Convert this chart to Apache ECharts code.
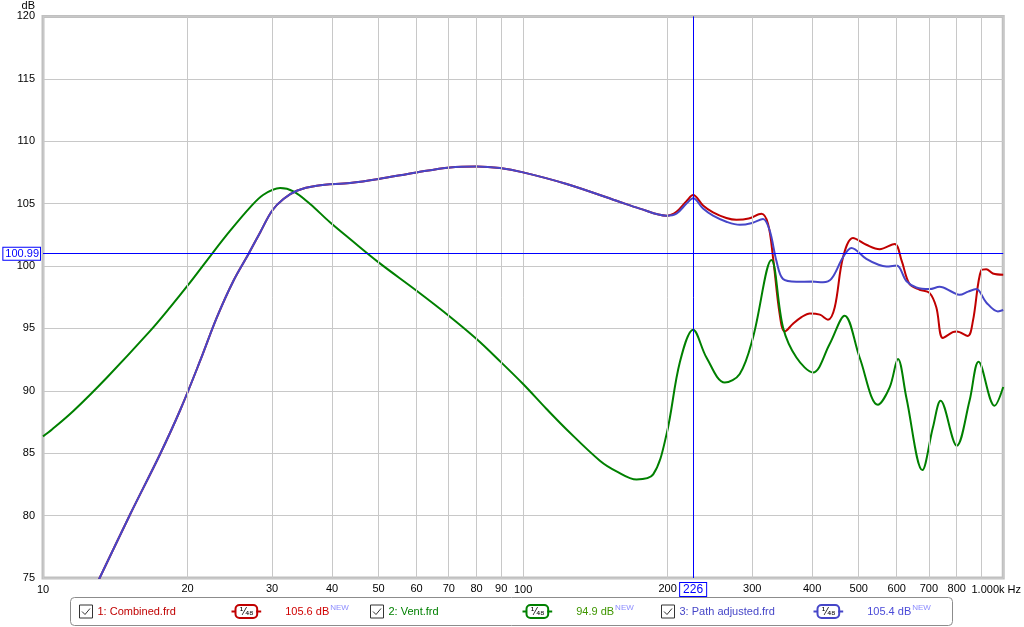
<!DOCTYPE html>
<html><head><meta charset="utf-8">
<script src="https://cdn.jsdelivr.net/npm/echarts@6/dist/echarts.min.js"></script>
<style>html,body{margin:0;padding:0;background:#fff}#c{width:1024px;height:627px}</style>
</head><body><div id="c"></div>
<script>
// ---- data ----
const sharedHz = [12, 13.12, 15.2, 17.54, 19.31, 21.25, 23.02, 24.93, 26.79, 28.33, 30, 31.68, 33.78, 37.17, 43.6, 50, 60, 70.4, 80, 89.5, 100, 123.2, 156.5, 175, 198.9];
const sharedDb = [71.9, 75, 80.13, 84.94, 88.46, 92.41, 95.88, 98.82, 100.96, 102.69, 104.43, 105.37, 106.03, 106.43, 106.65, 106.97, 107.5, 107.9, 107.98, 107.85, 107.5, 106.57, 105.23, 104.6, 104.03];

const combinedHz = [208.6, 218.9, 226, 237, 248.6, 265, 278.2, 295, 313.6, 323.6, 331.5, 342.2, 350.6, 364.9, 380, 395.4, 415, 431.5, 445.6, 463.8, 486.4, 518.7, 552.8, 594, 614, 638, 669.6, 702, 725.4, 748.6, 785, 800, 843.8, 864.7, 900, 921.8, 951.5, 1000];
const combinedDb = [104.35, 105.2, 105.69, 104.85, 104.3, 103.85, 103.7, 103.8, 104.18, 103.38, 100.7, 96.17, 94.75, 95.37, 95.9, 96.2, 96.1, 95.7, 96.68, 100.7, 102.25, 101.7, 101.35, 101.77, 100.45, 98.55, 98.1, 97.85, 96.7, 94.23, 94.7, 94.75, 94.4, 95.6, 99.66, 99.74, 99.4, 99.3];

const pathHz = [208.6, 218.9, 226, 237, 248.6, 265, 282.6, 300, 316, 326.3, 337, 347.8, 370.9, 400, 421.3, 438.5, 463.8, 482.7, 518.7, 550, 571, 600, 628.3, 659, 702.4, 736.9, 785, 810.9, 845, 878.6, 921.8, 974.6, 1000];
const pathDb = [104.2, 105.0, 105.42, 104.6, 104.03, 103.55, 103.3, 103.45, 103.77, 102.84, 100.4, 98.96, 98.74, 98.75, 98.7, 98.96, 100.7, 101.45, 100.57, 100.1, 99.96, 100.04, 98.8, 98.28, 98.15, 98.33, 97.9, 97.69, 97.95, 98.15, 97.08, 96.36, 96.47];

const ventHz = [10, 10.44, 11.58, 13.59, 16.72, 18.41, 20, 22.47, 24.54, 27.0, 28.78, 31.18, 33.23, 36.0, 39.6, 43.6, 50, 60, 70, 80, 90, 100, 111.9, 123.2, 144.5, 156.5, 172.3, 186.6, 198.9, 212.1, 226, 240.9, 263, 282.6, 301.2, 329, 347.8, 370.9, 401.6, 435, 467.4, 502.2, 548.3, 580, 603.6, 628.3, 678.5, 713.8, 740.5, 800, 850.8, 888.4, 959, 1000];
const ventDb = [86.35, 86.9, 88.4, 91.07, 94.8, 96.7, 98.42, 100.96, 102.83, 104.7, 105.71, 106.25, 105.98, 104.97, 103.5, 102.16, 100.29, 98.02, 96.02, 94.15, 92.28, 90.54, 88.54, 86.9, 84.4, 83.55, 82.9, 83.3, 86.5, 92.3, 94.9, 92.67, 90.67, 91.35, 94.28, 100.48, 95.08, 92.67, 91.47, 93.75, 96.02, 92.67, 88.88, 90.27, 92.55, 89.47, 83.65, 87.07, 89.2, 85.6, 89.2, 92.33, 88.8, 90.3];

const minorGridHz = [20, 30, 40, 50, 60, 70, 80, 90, 200, 300, 400, 500, 600, 700, 800, 900];
const minorLabels = {20:'20',30:'30',40:'40',50:'50',60:'60',70:'70',80:'80',90:'90',200:'200',300:'300',400:'400',500:'500',600:'600',700:'700',800:'800',900:''};
const majorLabels = {10:'10', 100:'100', 1000:'1.000k Hz'};
const cursorHz = 226;
const cursorDb = 100.99;
const seriesNames = ['1: Combined.frd', '2: Vent.frd', '3: Path adjusted.frd'];
const legendValues = ['105.6 dB', '94.9 dB', '105.4 dB'];
const smoothingLabel = '¹⁄₄₈';

// ---- styling ----
const FONT = 'Liberation Sans, Arial, sans-serif';
const lineColors = ['#c00000', '#008000', '#4646c8'];
const valueColors = ['#d00000', '#3f9600', '#4a4ad8'];
const gridColor = '#c8c8c8';
const cursorColor = '#0000ff';

const pairs = (hz, db) => hz.map((h, i) => [h, db[i]]);
const combinedData = pairs(sharedHz, sharedDb).concat(pairs(combinedHz, combinedDb));
const pathData = pairs(sharedHz, sharedDb).concat(pairs(pathHz, pathDb));
const ventData = pairs(ventHz, ventDb);

const chart = echarts.init(document.getElementById('c'), null, {renderer: 'canvas'});

function legendFor(i, left) {
  const rich = {};
  rich['n'] = {color: lineColors[i], fontSize: 11, fontFamily: FONT, width: 134};
  rich['d'] = {width: 5, height: 2, backgroundColor: lineColors[i]};
  rich['b'] = {color: '#000', fontSize: 10, fontFamily: 'DejaVu Sans', borderColor: lineColors[i], borderWidth: 2, borderRadius: 3, padding: [1, 3, 0, 3], backgroundColor: '#fff', align: 'center'};
  rich['s'] = {width: 24};
  rich['v'] = {color: valueColors[i], fontSize: 11, fontFamily: FONT};
  rich['sup'] = {color: '#8c8cff', fontSize: 8, fontFamily: FONT, padding: [0, 0, 7, 1]};
  return {
    left: left, top: 604, padding: 0,
    data: [seriesNames[i]],
    selectedMode: false,
    icon: 'path://M0,0L13,0L13,13L0,13Z M2.5,6.5L5.5,9.5L10.5,3.5',
    itemWidth: 13, itemHeight: 13,
    itemStyle: {color: '#fff', borderColor: '#333', borderWidth: 1},
    formatter: () => `{n|${seriesNames[i]}}{d|}{b|${smoothingLabel}}{d|}{s|}{v|${legendValues[i]}}{sup|NEW}`,
    textStyle: {rich: rich}
  };
}

const option = {
  animation: false,
  backgroundColor: '#fff',
  grid: {left: 43, right: 20, top: 16, bottom: 49, show: true, borderColor: '#c0c0c0', borderWidth: 3, backgroundColor: '#fff'},
  xAxis: {
    type: 'log', logBase: 10, min: 10, max: 1000,
    axisLine: {show: false}, axisTick: {show: false},
    splitLine: {show: true, lineStyle: {color: gridColor, width: 1}},
    axisLabel: {
      margin: 6, color: '#000', fontSize: 11, fontFamily: FONT,
      formatter: v => v === 1000 ? '{k|' + majorLabels[1000] + '}' : (majorLabels[v] || ''),
      rich: {k: {color: '#000', fontSize: 11, fontFamily: FONT, padding: [0, 14, 0, 0]}}
    }
  },
  yAxis: {
    type: 'value', min: 75, max: 120, interval: 5,
    name: 'dB', nameLocation: 'end', nameGap: 3,
    nameTextStyle: {color: '#000', fontSize: 11, fontFamily: FONT, align: 'right', padding: [0, 8, 0, 0]},
    axisLine: {show: false}, axisTick: {show: false},
    splitLine: {show: true, lineStyle: {color: gridColor, width: 1}},
    axisLabel: {margin: 8, color: '#000', fontSize: 11, fontFamily: FONT}
  },
  legend: [legendFor(0, 79), legendFor(1, 370), legendFor(2, 661)],
  graphic: [{
    type: 'rect', z: 0, silent: true,
    shape: {x: 70.5, y: 597.5, width: 882, height: 28, r: 4},
    style: {fill: '#fff', stroke: '#8c8c8c', lineWidth: 1}
  }],
  series: [
    {
      name: 'minor-grid', type: 'line', data: [], z: 1, silent: true,
      markLine: {
        silent: true, symbol: ['none', 'none'], animation: false,
        lineStyle: {color: gridColor, width: 1, type: 'solid'},
        emphasis: {disabled: true},
        label: {show: true, position: 'start', distance: 5, color: '#000', fontSize: 11, fontFamily: FONT,
          formatter: p => minorLabels[p.value] || ''},
        data: minorGridHz.map(v => ({xAxis: v}))
      }
    },
    {name: seriesNames[0], type: 'line', data: combinedData, showSymbol: false, smooth: 0.35, z: 3,
      lineStyle: {color: lineColors[0], width: 2}, itemStyle: {color: lineColors[0]}},
    {name: seriesNames[1], type: 'line', data: ventData, showSymbol: false, smooth: 0.35, z: 3,
      lineStyle: {color: lineColors[1], width: 2}, itemStyle: {color: lineColors[1]}},
    {name: seriesNames[2], type: 'line', data: pathData, showSymbol: false, smooth: 0.35, z: 3,
      lineStyle: {color: lineColors[2], width: 2}, itemStyle: {color: lineColors[2]}},
    {
      name: 'cursor', type: 'line', data: [], z: 5, silent: true,
      itemStyle: {color: cursorColor},
      markLine: {
        silent: true, symbol: ['none', 'none'], animation: false,
        lineStyle: {color: cursorColor, width: 1, type: 'solid', opacity: 1},
        emphasis: {disabled: true},
        data: [
          {xAxis: cursorHz, lineStyle: {color: cursorColor, width: 1},
            label: {show: true, position: 'start', distance: 5, formatter: String(cursorHz),
            color: cursorColor, fontSize: 12, fontFamily: FONT, backgroundColor: '#fff', borderColor: cursorColor, borderWidth: 1, padding: [1, 3, 0, 3]}},
          {yAxis: cursorDb, lineStyle: {color: cursorColor, width: 1},
            label: {show: true, position: 'start', distance: 3, formatter: cursorDb.toFixed(2),
            color: cursorColor, fontSize: 11, fontFamily: FONT, backgroundColor: '#fff', borderColor: cursorColor, borderWidth: 1, padding: [1, 1, 0, 2]}}
        ]
      }
    }
  ]
};
chart.setOption(option);
</script>
</body></html>
